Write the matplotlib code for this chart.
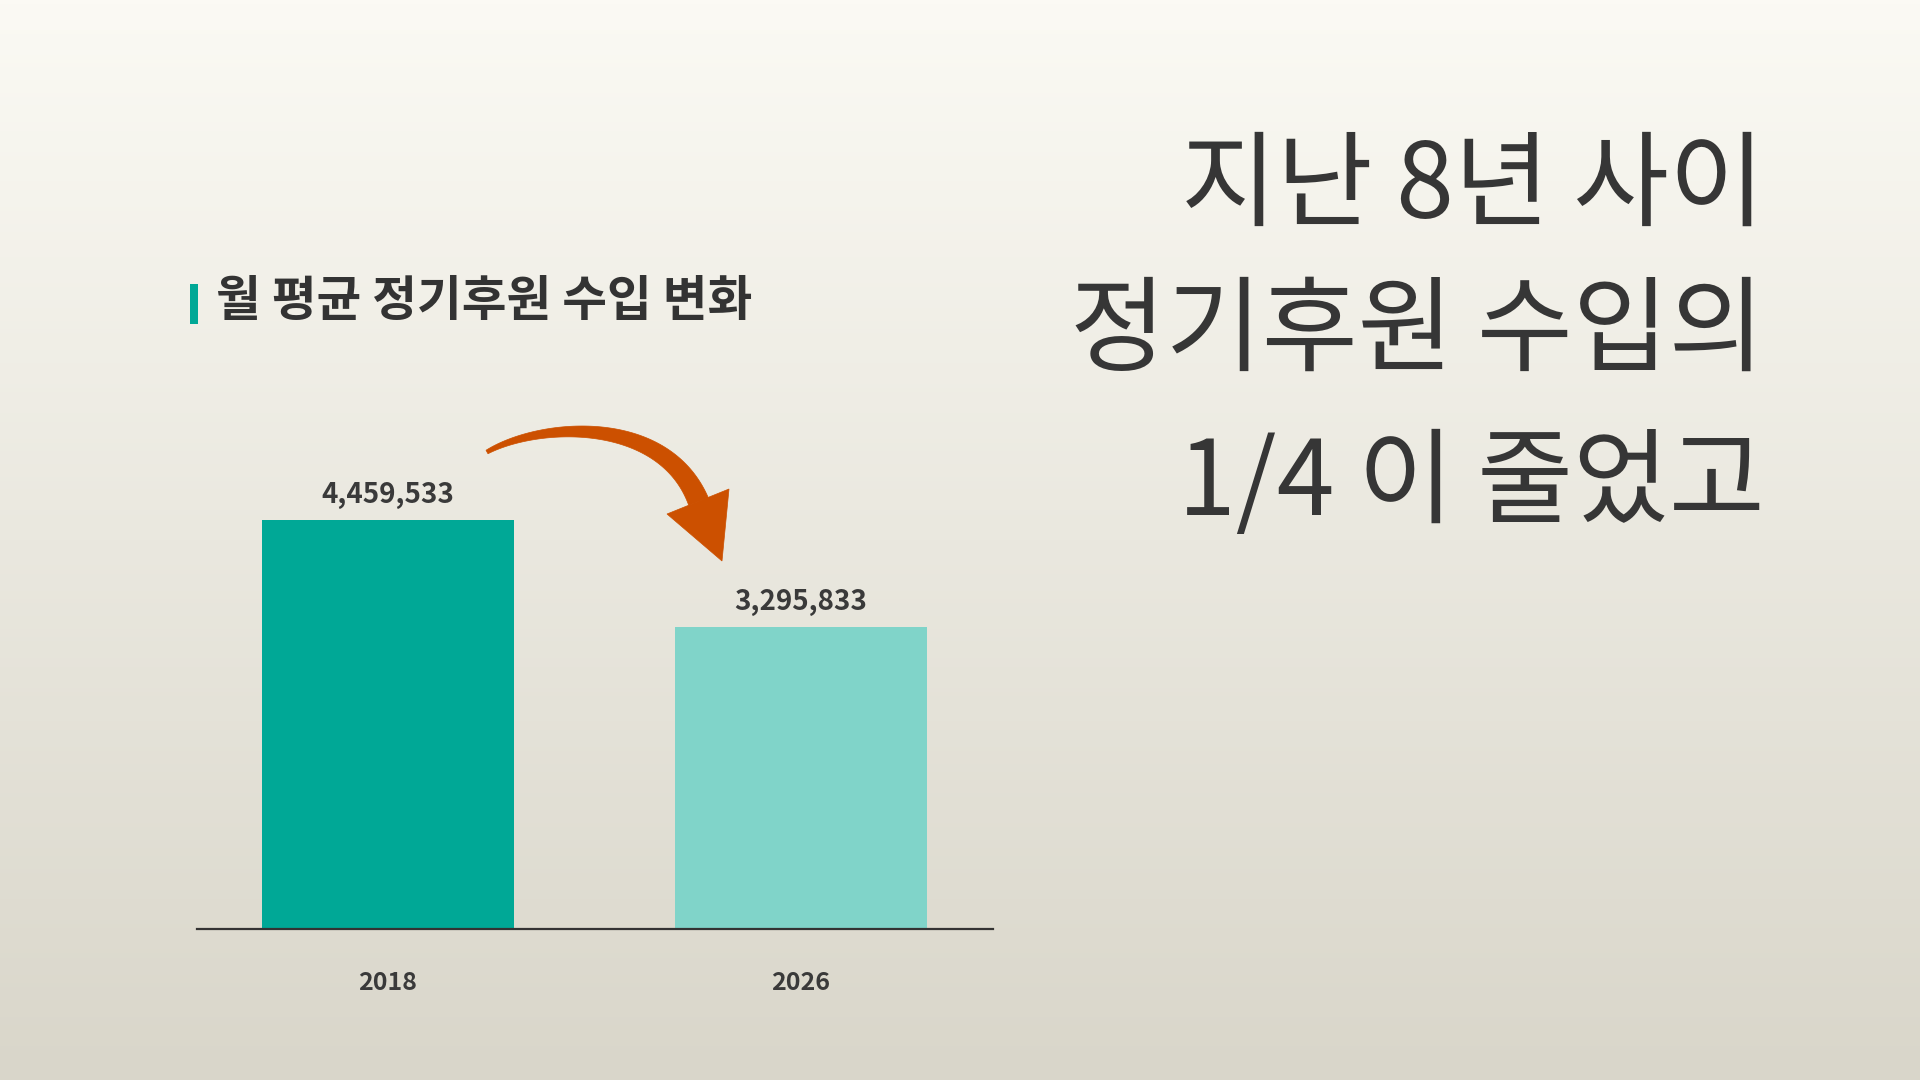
import numpy as np
import matplotlib
matplotlib.use('Agg')
import matplotlib.pyplot as plt
from matplotlib.patches import Polygon, Rectangle
from matplotlib.colors import LinearSegmentedColormap

plt.rcParams['font.family'] = ['Noto Sans CJK KR', 'DejaVu Sans']

# ---- data ----
years = ['2018', '2026']
income = [4459533, 3295833]
value_labels = ['4,459,533', '3,295,833']
bar_colors = ['#00a896', '#80d4c9']
title = '월 평균 정기후원 수입 변화'
headline = ['지난 8년 사이', '정기후원 수입의', '1/4 이 줄었고']

W, H = 1920, 1080
fig = plt.figure(figsize=(W / 100, H / 100), dpi=100)

# background gradient
bg = fig.add_axes([0, 0, 1, 1], zorder=-10)
grad = np.linspace(0, 1, 256).reshape(-1, 1)
cmap = LinearSegmentedColormap.from_list('bg', ['#fbfaf4', '#d9d6ca'])
bg.imshow(grad, aspect='auto', cmap=cmap, extent=[0, 1, 0, 1], origin='upper')
bg.axis('off')

def fx(x):
    return x / W

def fy(y):
    return 1 - y / H

# chart axes
ax_left, ax_right, ax_bottom, ax_top = 197, 993, 929, 425
ax = fig.add_axes([fx(ax_left), fy(ax_bottom), (ax_right - ax_left) / W, (ax_bottom - ax_top) / H])
ax.patch.set_alpha(0)
x = np.arange(len(years))
ax.bar(x, income, width=0.608, color=bar_colors, zorder=2)
ax.set_xlim(-0.4625, 1.465)
ax.set_ylim(0, 5500000)
for s in ['top', 'right', 'left']:
    ax.spines[s].set_visible(False)
ax.spines['bottom'].set_color('#333333')
ax.spines['bottom'].set_linewidth(1.6)
ax.spines['bottom'].set_zorder(3)
ax.set_yticks([])
ax.set_xticks(x)
ax.set_xticklabels(years, fontsize=18, fontweight='bold', color='#3a3a3a')
ax.tick_params(axis='x', length=0, pad=30)
for xi, v, lab in zip(x, income, value_labels):
    ax.annotate(lab, (xi, v), xytext=(0, 18), textcoords='offset points',
                ha='center', va='center', fontsize=20, fontweight='bold', color='#3a3a3a')

# title with accent bar
fig.add_artist(Rectangle((fx(190), fy(324)), 8 / W, 40 / H, transform=fig.transFigure,
                         color='#00a896', lw=0))
fig.text(fx(216), fy(302), title, ha='left', va='center', fontsize=35,
         fontweight=600, color='#333333')

# headline
for line, yy in zip(headline, [188, 333, 486]):
    fig.text(fx(1765), fy(yy), line, ha='right', va='center', fontsize=75,
             fontweight='light', color='#363636')

# curved arrow (decoration)
P0 = np.array([487., 452.]); P1 = np.array([540., 422.])
P2 = np.array([664., 415.]); P3 = np.array([698.5, 501.5])
t = np.linspace(0, 1, 120)[:, None]
pts = (1 - t) ** 3 * P0 + 3 * (1 - t) ** 2 * t * P1 + 3 * (1 - t) * t ** 2 * P2 + t ** 3 * P3
d = 3 * (1 - t) ** 2 * (P1 - P0) + 6 * (1 - t) * t * (P2 - P1) + 3 * t ** 2 * (P3 - P2)
n = np.stack([-d[:, 1], d[:, 0]], 1)
n /= np.linalg.norm(n, axis=1)[:, None]
w = (4 + 17 * t[:, 0]) / 2
left = pts + n * w[:, None]
right = pts - n * w[:, None]
shaft = np.vstack([left, right[::-1]])
head = np.array([[667., 514.], [729., 489.], [722., 561.]])
arrow_color = '#cc5000'
for poly in (shaft, head):
    fp = np.column_stack([fx(poly[:, 0]), fy(poly[:, 1])])
    fig.add_artist(Polygon(fp, closed=True, transform=fig.transFigure,
                           facecolor=arrow_color, edgecolor=arrow_color, lw=0.5))

fig.savefig('out.png', dpi=100)
